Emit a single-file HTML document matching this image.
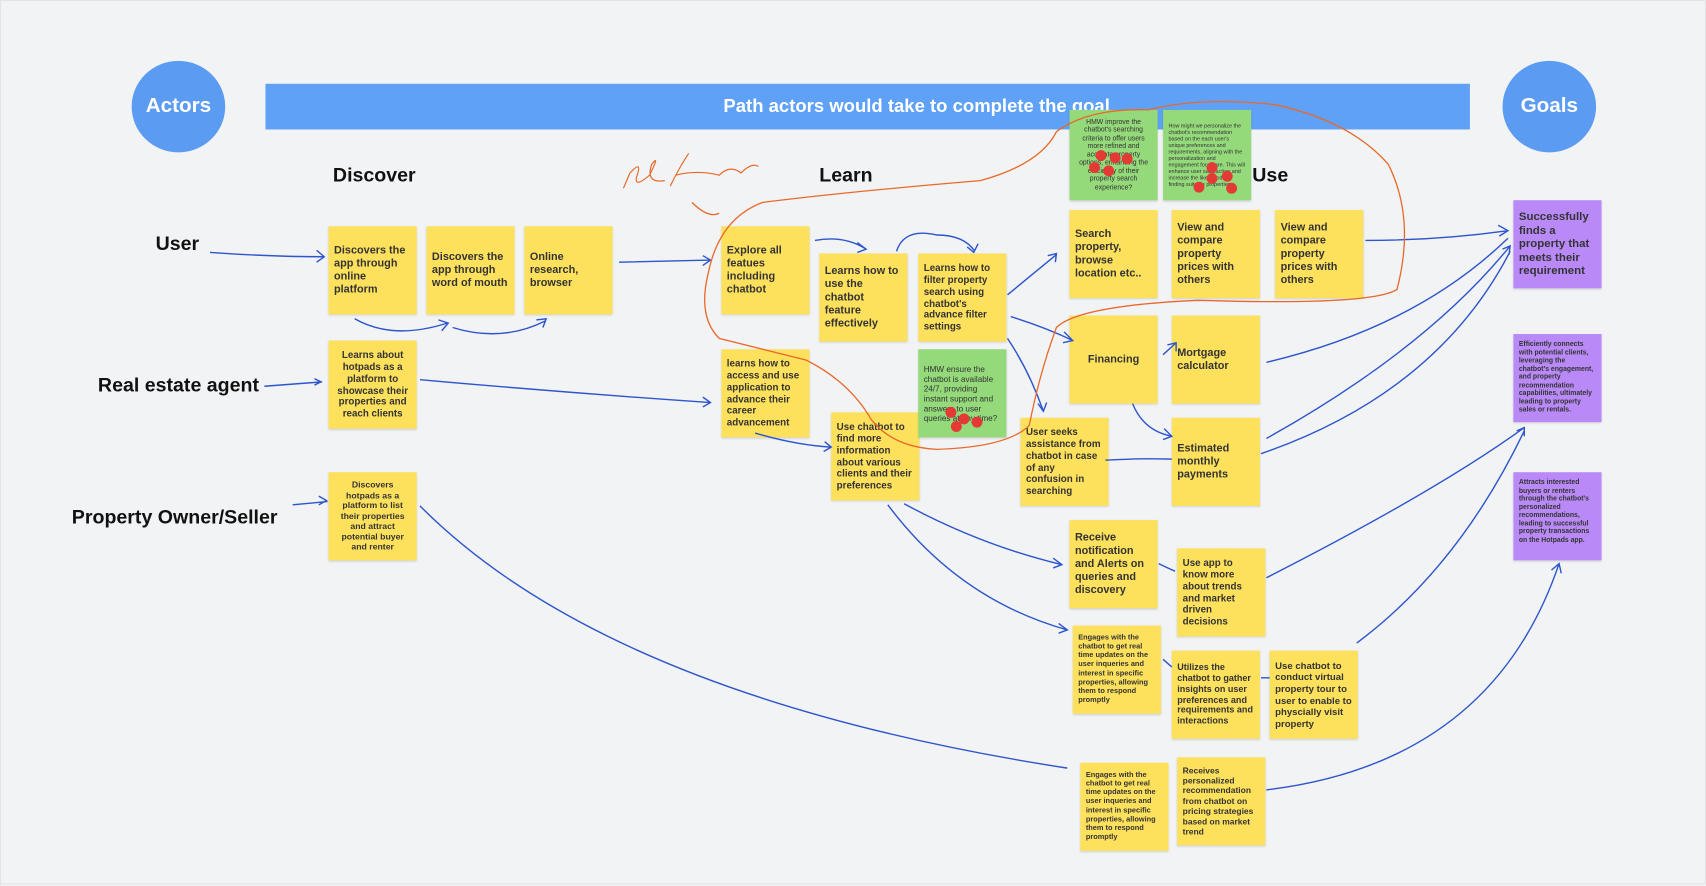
<!DOCTYPE html>
<html><head><meta charset="utf-8"><style>
html,body{margin:0;padding:0;width:1706px;height:885px;overflow:hidden;background:#f2f3f5;font-family:"Liberation Sans",sans-serif}
#w{position:absolute;left:0;top:0;width:1568px;height:813px;transform:scale(1.0880);transform-origin:0 0;border:1px solid #e2e4e8;box-sizing:border-box}
.c{position:absolute;border-radius:50%;background:#5b9cf2;color:#fff;font-weight:bold;font-size:19px;display:flex;align-items:center;justify-content:center}
.s{position:absolute;width:81px;height:81px;background:#fde15c;box-shadow:0 1px 2px rgba(0,0,0,.15);box-sizing:border-box;padding:6px 5px;font-size:10px;font-weight:bold;color:#333;line-height:1.2;display:flex;align-items:center}
.sm{font-size:8px;text-align:center;justify-content:center}
.g{background:#94d97a;font-weight:normal;font-size:7.5px;text-align:center;justify-content:center}
.p{background:#b98af7;font-size:6.3px;align-items:flex-start}
.h{position:absolute;font-weight:bold;font-size:18px;color:#111}
svg{position:absolute;left:0;top:0}
</style></head><body><div id="w">
<div class="c" style="left:120px;top:55px;width:86px;height:84px">Actors</div>
<div class="c" style="left:1380px;top:55px;width:86px;height:84px">Goals</div>
<div style="position:absolute;left:243px;top:76px;width:1107px;height:42px;background:#5ea1f7;color:#fff;font-weight:bold;font-size:17px;display:flex;align-items:center;justify-content:center;padding-left:90px;box-sizing:border-box">Path actors would take to complete the goal</div>
<div class="h" style="left:305px;top:150px">Discover</div>
<div class="h" style="left:752px;top:150px">Learn</div>
<div class="h" style="left:1150px;top:150px">Use</div>
<div class="h" style="left:142px;top:213px">User</div>
<div class="h" style="left:89px;top:343px">Real estate agent</div>
<div class="h" style="left:65px;top:464px">Property Owner/Seller</div>

<div class="s" style="left:301px;top:207px">Discovers the app through online platform</div>
<div class="s" style="left:391px;top:207px">Discovers the app through word of mouth</div>
<div class="s" style="left:481px;top:207px">Online research, browser</div>
<div class="s sm" style="left:301px;top:312px;font-size:9px">Learns about hotpads as a platform to showcase their properties and reach clients</div>
<div class="s sm" style="left:301px;top:433px">Discovers hotpads as a platform to list their properties and attract potential buyer and renter</div>
<div class="s" style="left:662px;top:207px">Explore all featues including chatbot</div>
<div class="s" style="left:752px;top:232px">Learns how to use the chatbot feature effectively</div>
<div class="s" style="left:843px;top:232px;font-size:9px">Learns how to filter property search using chatbot's advance filter settings</div>
<div class="s" style="left:662px;top:320px;font-size:9px">learns how to access and use application to advance their career advancement</div>
<div class="s" style="left:763px;top:378px;font-size:9px">Use chatbot to find more information about various clients and their preferences</div>
<div class="s g" style="left:843px;top:320px;font-size:7.5px;text-align:left">HMW ensure the chatbot is available 24/7, providing instant support and answers to user queries at any time?</div>
<div class="s g" style="left:982px;top:100px;height:83px;font-size:6.3px">HMW improve the chatbot's searching criteria to offer users more refined and accurate property options, enhancing the efficiency of their property search experience?</div>
<div class="s g" style="left:1068px;top:100px;height:83px;font-size:5px;text-align:left">How might we personalize the chatbot's recommendation based on the each user's unique preferences and requirements, aligning with the personalization and engagement focus are. This will enhance user satisfaction and increase the likelihood of finding suitable properties.</div>
<div class="s" style="left:982px;top:192px">Search property, browse location etc..</div>
<div class="s" style="left:1076px;top:192px">View and compare property prices with others</div>
<div class="s" style="left:1171px;top:192px">View and compare property prices with others</div>
<div class="s" style="left:982px;top:289px;justify-content:center">Financing</div>
<div class="s" style="left:1076px;top:289px">Mortgage calculator</div>
<div class="s" style="left:937px;top:383px;font-size:9px">User seeks assistance from chatbot in case of any confusion in searching</div>
<div class="s" style="left:1076px;top:383px">Estimated monthly payments</div>
<div class="s" style="left:982px;top:477px">Receive notification and Alerts on queries and discovery</div>
<div class="s" style="left:1081px;top:503px;font-size:9px">Use app to know more about trends and market driven decisions</div>
<div class="s" style="left:985px;top:574px;font-size:6.8px">Engages with the chatbot to get real time updates on the user inqueries and interest in specific properties, allowing them to respond promptly</div>
<div class="s" style="left:1076px;top:597px;font-size:8.3px">Utilizes the chatbot to gather insights on user preferences and requirements and interactions</div>
<div class="s" style="left:1166px;top:597px;font-size:8.8px">Use chatbot to conduct virtual property tour to user to enable to physcially visit property</div>
<div class="s" style="left:992px;top:700px;font-size:6.8px">Engages with the chatbot to get real time updates on the user inqueries and interest in specific properties, allowing them to respond promptly</div>
<div class="s" style="left:1081px;top:695px;font-size:7.8px">Receives personalized recommendation from chatbot on pricing strategies based on market trend</div>
<div class="s p" style="left:1390px;top:183px;font-size:10.5px;align-items:center">Successfully finds a property that meets their requirement</div>
<div class="s p" style="left:1390px;top:306px">Efficiently connects with potential clients, leveraging the chatbot's engagement, and property recommendation capabilities, ultimately leading to property sales or rentals.</div>
<div class="s p" style="left:1390px;top:433px">Attracts interested buyers or renters through the chatbot's personalized recommendations, leading to successful property transactions on the Hotpads app.</div>

<svg width="1568" height="813" viewBox="0 0 1568 813" fill="none">
<g stroke="#2d55cc" stroke-width="1.3">
<path d="M192 231 Q250 235 297 235 M290 229 l7 6 -7 5"/>
<path d="M325 292 Q360 312 410 296 M402 293 l9 3 -6 7"/>
<path d="M415 300 Q460 314 500 294 M492 293 l9 -1 -3 8"/>
<path d="M568 240 L652 238 M645 234 l7 4 -7 5"/>
<path d="M242 354 L295 350 M288 347 l6 3 -6 3"/>
<path d="M385 348 Q520 360 652 369 M645 364 l7 5 -7 4"/>
<path d="M268 463 L300 460 M292 455 l7 4 -7 4"/>
<path d="M385 464 Q560 640 980 705"/>
<path d="M748 220 Q775 215 795 228 M787 222 l8 6 -8 3"/>
<path d="M823 230 Q830 208 860 215 Q885 215 895 230 M888 226 l6 5 4 -8"/>
<path d="M693 397 Q730 408 763 410 M757 405 l6 5 -7 4"/>
<path d="M925 270 L970 233 M962 234 l8 -2 -1 8"/>
<path d="M928 290 Q960 300 985 312 M977 304 l8 8 -9 2"/>
<path d="M925 310 Q945 340 958 377 M953 370 l5 7 3 -8"/>
<path d="M1015 422 Q1050 420 1076 421"/>
<path d="M1040 370 Q1050 395 1076 400 M1069 393 l7 7 -8 3"/>
<path d="M1068 325 L1080 314 M1072 316 l8 -2 0 8"/>
<path d="M1254 220 Q1320 220 1385 211 M1376 206 l9 5 -8 5"/>
<path d="M1163 332 Q1300 300 1385 218"/>
<path d="M1163 402 Q1310 320 1387 225 M1380 228 l7 -3 -1 8"/>
<path d="M1158 416 Q1320 360 1387 230"/>
<path d="M1163 530 Q1320 450 1400 392 M1393 395 l7 -3 0 8"/>
<path d="M1246 590 Q1340 520 1400 395"/>
<path d="M1163 725 Q1370 700 1432 517 M1425 523 l7 -6 2 9"/>
<path d="M815 463 Q880 550 980 578 M972 572 l8 6 -8 3"/>
<path d="M830 462 Q900 500 975 518 M967 512 l8 6 -8 3"/>
<path d="M1064 517 Q1070 520 1079 524"/>
<path d="M1068 605 L1076 612"/>
<path d="M1158 622 L1166 622"/>
</g>
<path d="M1055 100 Q1100 88 1170 95 Q1240 110 1275 150 Q1300 200 1283 265 Q1260 280 1100 275 Q990 280 970 300 Q955 340 945 390 Q925 410 860 412 Q820 410 800 385 Q780 350 740 330 Q700 320 660 310 Q640 290 650 250 Q660 200 700 185 Q780 175 900 165 Q955 150 970 120 Q1000 98 1055 100 M635 185 Q650 200 660 195" stroke="#e8692a" stroke-width="1.2"/>
<path d="M572 172 L578 158 Q590 145 584 162 Q582 172 596 160 Q606 140 598 150 Q592 168 610 165 M615 170 Q625 150 632 140 M620 160 Q640 155 660 160 Q670 150 680 158 Q690 148 696 152" stroke="#e8692a" stroke-width="1.1"/>
<g fill="#e53935">
<circle cx="1011" cy="142" r="5"/><circle cx="1024" cy="144" r="5"/><circle cx="1035" cy="145" r="5"/><circle cx="1005" cy="153" r="5"/><circle cx="1018" cy="156" r="5"/>
<circle cx="1113" cy="153" r="5"/><circle cx="1127" cy="161" r="5"/><circle cx="1113" cy="163" r="5"/><circle cx="1101" cy="171" r="5"/><circle cx="1131" cy="172" r="5"/>
<circle cx="873" cy="378" r="5"/><circle cx="885" cy="384" r="5"/><circle cx="897" cy="387" r="5"/><circle cx="878" cy="391" r="5"/>
</g>
</svg>
</div></body></html>
